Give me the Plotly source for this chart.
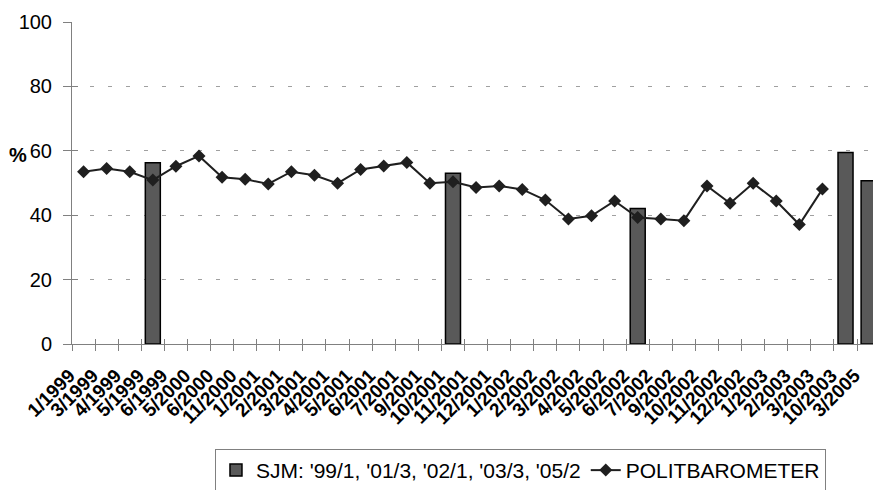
import plotly.graph_objects as go

categories = ["1/1999", "3/1999", "4/1999", "5/1999", "6/1999", "5/2000", "6/2000", "11/2000",
              "1/2001", "2/2001", "3/2001", "4/2001", "5/2001", "6/2001", "7/2001", "9/2001",
              "10/2001", "11/2001", "12/2001", "1/2002", "2/2002", "3/2002", "4/2002", "5/2002",
              "6/2002", "7/2002", "9/2002", "10/2002", "11/2002", "12/2002", "1/2003", "2/2003",
              "3/2003", "10/2003", "3/2005"]

sjm_x = ["5/1999", "10/2001", "6/2002", "10/2003", "3/2005"]
sjm_y = [56.3, 53.0, 42.1, 59.5, 50.7]

polit_x = categories[:33]
polit_y = [53.5, 54.5, 53.5, 50.9, 55.2, 58.4, 51.8, 51.2, 49.7, 53.5, 52.4, 49.9, 54.2,
           55.3, 56.4, 49.9, 50.4, 48.6, 49.1, 48.0, 44.7, 38.8, 39.8, 44.4, 39.3, 38.8,
           38.3, 49.1, 43.7, 49.9, 44.4, 37.1, 48.1]

y_ticks = [0, 20, 40, 60, 80, 100]
grid_vals = [20, 40, 60, 80]

FONT = "Liberation Sans, Arial, sans-serif"

fig = go.Figure()
fig.add_trace(go.Bar(
    x=sjm_x, y=sjm_y, name="SJM: '99/1, '01/3, '02/1, '03/3, '05/2",
    marker=dict(color="#595959", line=dict(color="#000000", width=1.5)),
))
fig.add_trace(go.Scatter(
    x=polit_x, y=polit_y, name="POLITBAROMETER", mode="lines+markers",
    line=dict(color="#1f1f1f", width=2),
    marker=dict(symbol="diamond", size=10, color="#1f1f1f"),
))

n = len(categories)
x_end = 34.19

fig.update_layout(
    width=873, height=490,
    margin=dict(l=72, r=0, t=22, b=146, autoexpand=False),
    paper_bgcolor="white", plot_bgcolor="white",
    bargap=0.35,
    font=dict(family=FONT, color="black"),
    xaxis=dict(
        type="category", categoryorder="array", categoryarray=categories,
        range=[-0.5, x_end], automargin=False,
        tickson="boundaries", ticks="outside", ticklen=6, tickcolor="#808080", tickwidth=1,
        showline=True, linecolor="#808080", linewidth=1,
        showgrid=False, zeroline=False,
        tickangle=-45, tickfont=dict(size=19, family=FONT, weight="bold"),
        ticklabelshift=-14, ticklabelstandoff=12,
    ),
    xaxis2=dict(
        overlaying="x", anchor="y", type="linear", range=[-0.5, x_end], automargin=False,
        tickmode="array", tickvals=[i - 0.5 for i in range(n + 1)],
        ticks="inside", ticklen=5, tickcolor="#808080", showticklabels=False,
        showline=False, showgrid=False, zeroline=False,
    ),
    yaxis=dict(
        range=[0, 100], tickmode="array", tickvals=y_ticks, automargin=False,
        ticks="outside", ticklen=8, tickcolor="#808080",
        showline=True, linecolor="#808080", linewidth=1,
        showgrid=False, zeroline=False,
        tickfont=dict(size=20, family=FONT), ticklabelstandoff=7,
        minor=dict(tickmode="array", tickvals=grid_vals, showgrid=True,
                   gridcolor="#a0a0a0", griddash="4px,14px", gridwidth=1, ticks=""),
    ),
    yaxis2=dict(
        overlaying="y", anchor="x", range=[0, 100], tickmode="array", tickvals=y_ticks,
        automargin=False,
        ticks="inside", ticklen=6, tickcolor="#808080", showticklabels=False,
        showline=False, showgrid=False, zeroline=False,
    ),
    legend=dict(
        orientation="h", x=0.1785, xanchor="left", y=-0.326, yanchor="top",
        bordercolor="#808080", borderwidth=1, bgcolor="white",
        font=dict(size=21, family=FONT), itemwidth=30,
    ),
    showlegend=True,
    annotations=[dict(text="<b>%</b>", xref="paper", yref="paper", x=-0.0674, y=0.587,
                      xanchor="center", yanchor="middle",
                      showarrow=False, font=dict(size=20, family=FONT))],
)

# invisible trace to activate the overlay axes that draw the inner half of the cross ticks
fig.add_trace(go.Scatter(x=[0], y=[0], xaxis="x2", yaxis="y2", mode="markers",
                         marker=dict(opacity=0), showlegend=False, hoverinfo="skip"))

fig.write_html("out.html", config={"displayModeBar": False},
               post_script="document.body.style.margin='0px';"
               "document.body.style.overflow='hidden';")
